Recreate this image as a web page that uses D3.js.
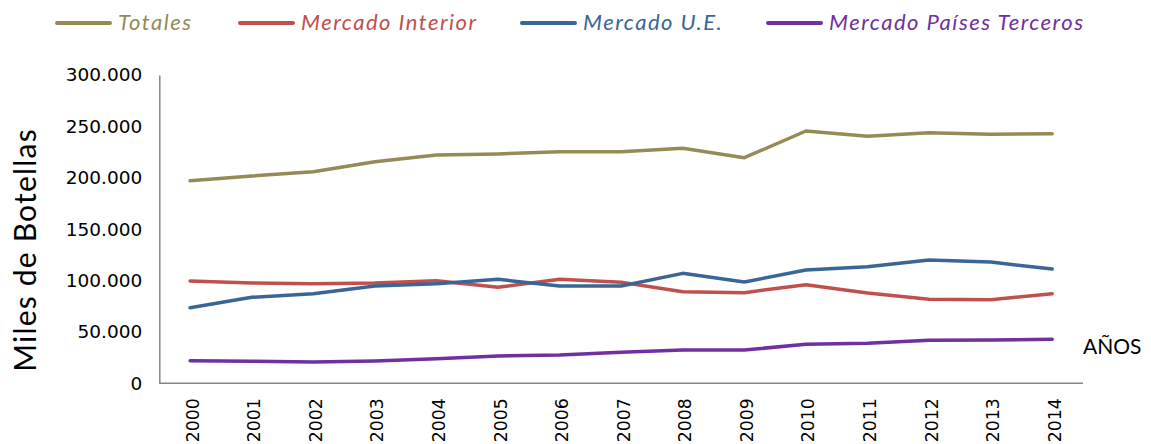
<!DOCTYPE html>
<html>
<head>
<meta charset="utf-8">
<script src="https://cdn.jsdelivr.net/npm/d3@7"></script>
<style>
  body { margin: 0; background: #fff; }
  .axis path { stroke: #868686; stroke-width: 1.5; }
  .axis line { display: none; }
  .ytick text { font-family: "DejaVu Sans", Verdana, sans-serif; font-size: 18.5px; fill: #000; }
  .xtick text { font-family: "DejaVu Sans", Verdana, sans-serif; font-size: 17.3px; fill: #000; }
</style>
</head>
<body>
<div id="chart"></div>
<script>
// data (miles de botellas)
var years = ["2000","2001","2002","2003","2004","2005","2006","2007","2008","2009","2010","2011","2012","2013","2014"];
var totales = [197100, 201700, 205900, 215600, 222100, 223200, 225400, 225400, 228700, 219500, 245500, 240300, 243900, 242300, 242900];
var interior = [99500, 97600, 96900, 97600, 99800, 93400, 101200, 98300, 89100, 88200, 96000, 87900, 81700, 81400, 87200];
var ue = [73600, 83700, 87200, 94700, 96900, 101200, 94700, 94700, 107000, 98600, 110200, 113500, 120000, 118000, 111200];
var terceros = [22000, 21400, 20700, 21700, 23900, 26600, 27500, 30200, 32400, 32400, 37900, 38900, 41800, 42100, 42800];
var yTicks = [0, 50000, 100000, 150000, 200000, 250000, 300000];

var seriesNames = ["Totales", "Mercado Interior", "Mercado U.E.", "Mercado Países Terceros"];
var seriesColors = ["#958b56", "#c0504d", "#3a6597", "#7030a0"];
var seriesValues = [totales, interior, ue, terceros];

var width = 1151, height = 444;
var plot = {left: 159.3, right: 1083, top: 75, bottom: 383.3};

var svg = d3.select("#chart")
    .append("svg")
    .attr("width", width)
    .attr("height", height);

var x = d3.scalePoint().domain(years).range([plot.left, plot.right]).padding(0.5);
var y = d3.scaleLinear().domain([0, 300000]).range([plot.bottom, plot.top]);

// spanish number format: 250.000
var es = d3.formatLocale({decimal: ",", thousands: ".", grouping: [3], currency: ["", " €"]});
var fmt = es.format(",");

// y axis
svg.append("g")
    .attr("class", "axis ytick")
    .attr("transform", "translate(" + plot.left + ",0)")
    .call(d3.axisLeft(y).tickValues(yTicks).tickSize(0).tickPadding(17).tickFormat(fmt));

// x axis
var xa = svg.append("g")
    .attr("class", "axis xtick")
    .attr("transform", "translate(0," + plot.bottom + ")")
    .call(d3.axisBottom(x).tickSize(0).tickSizeOuter(0));
xa.select(".domain").attr("d", "M" + plot.left + ",0H" + plot.right);
xa.selectAll("text")
    .attr("transform", "rotate(-90)")
    .attr("text-anchor", "end")
    .attr("x", -15)
    .attr("y", 2)
    .attr("dy", "0.35em");

// lines
var line = d3.line()
    .x(function(d, i) { return x(years[i]); })
    .y(function(d) { return y(d); });

svg.append("g")
    .selectAll("path")
    .data(seriesValues)
    .enter()
    .append("path")
    .attr("fill", "none")
    .attr("stroke", function(d, i) { return seriesColors[i]; })
    .attr("stroke-width", 3.5)
    .attr("stroke-linejoin", "round")
    .attr("stroke-linecap", "round")
    .attr("d", line);

// y title
svg.append("text")
    .attr("transform", "translate(36,250) rotate(-90)")
    .attr("text-anchor", "middle")
    .style("font-family", "Lato, sans-serif")
    .style("font-size", "30px")
    .style("letter-spacing", "1.2px")
    .style("fill", "#000")
    .text("Miles de Botellas");

// AÑOS
svg.append("text")
    .attr("x", 1083)
    .attr("y", 354)
    .style("font-family", "Lato, sans-serif")
    .style("font-size", "21px")
    .style("fill", "#000")
    .text("AÑOS");

// legend
var legendX = [57, 240, 522, 768];
var lg = svg.append("g")
    .selectAll("g")
    .data(seriesNames)
    .enter()
    .append("g")
    .attr("transform", function(d, i) { return "translate(" + legendX[i] + ",23)"; });
lg.append("line")
    .attr("x1", 0).attr("x2", 53)
    .attr("stroke", function(d, i) { return seriesColors[i]; })
    .attr("stroke-width", 4)
    .attr("stroke-linecap", "round");
lg.append("text")
    .attr("x", 61)
    .attr("y", 7)
    .style("font-family", "Lato, sans-serif")
    .style("font-style", "italic")
    .style("font-size", "22px")
    .style("letter-spacing", "1.5px")
    .style("fill", function(d, i) { return seriesColors[i]; })
    .text(function(d) { return d; });
</script>
</body>
</html>
